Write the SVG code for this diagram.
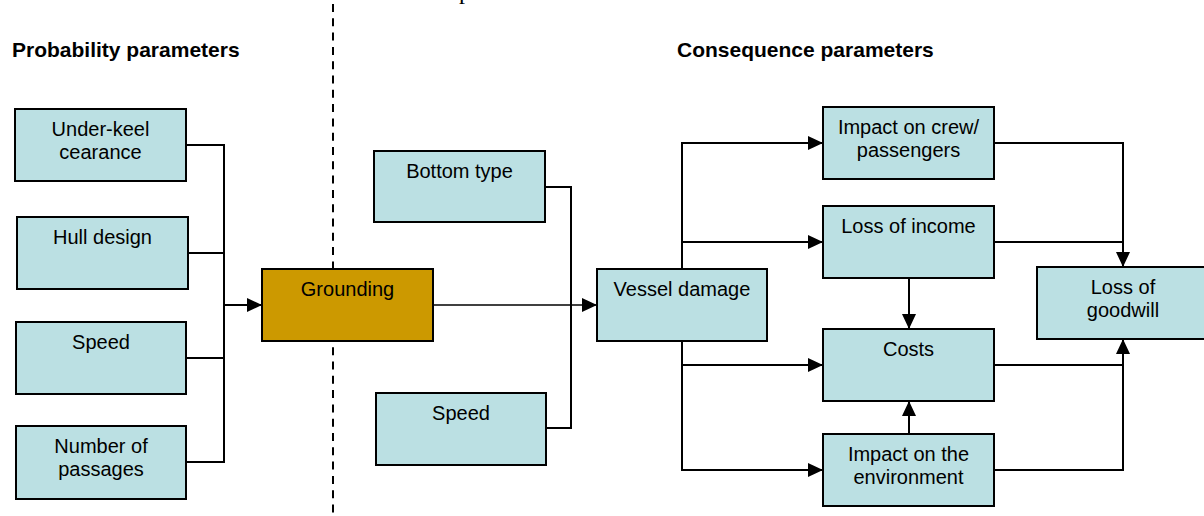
<svg xmlns="http://www.w3.org/2000/svg" width="1204" height="516" viewBox="0 0 1204 516">
<style>
.box{fill:#BBE0E3;stroke:#000;stroke-width:2}
.gr{fill:#CC9900;stroke:#000;stroke-width:2}
.t{font-family:"Liberation Sans",Arial,sans-serif;font-size:20px;fill:#000;text-anchor:middle}
.h{font-family:"Liberation Sans",Arial,sans-serif;font-size:21px;font-weight:bold;fill:#000}
.c{fill:none;stroke:#000;stroke-width:2}
.ca{fill:none;stroke:#000;stroke-width:2;marker-end:url(#ah)}
</style>
<defs>
<marker id="ah" markerWidth="15" markerHeight="14" refX="15" refY="7" orient="auto" markerUnits="userSpaceOnUse">
<path d="M0,0 L15,7 L0,14 z" fill="#000"/>
</marker>
</defs>
<rect width="1204" height="516" fill="#fff"/>
<text x="459" y="-1" font-family="Liberation Serif" font-size="24">p</text>
<line x1="333" y1="4" x2="333" y2="516" stroke="#000" stroke-width="2" stroke-dasharray="8,6.3"/>
<text class="h" x="12" y="57">Probability parameters</text>
<text class="h" x="677" y="57">Consequence parameters</text>
<g id="connectors">
<polyline class="c" points="186,145 224,145 224,462 186,462"/>
<polyline class="c" points="188,253 224,253"/>
<polyline class="c" points="186,358 224,358"/>
<polyline class="ca" points="224,305 262,305"/>
<polyline class="ca" points="433,305 597,305" style="stroke-width:1.5"/>
<polyline class="c" points="545,187 571,187 571,428 546,428"/>
<polyline class="ca" points="682,269 682,143 823,143"/>
<polyline class="ca" points="682,242 823,242"/>
<polyline class="ca" points="682,341 682,470 823,470"/>
<polyline class="ca" points="682,365 823,365"/>
<polyline class="ca" points="994,143 1123,143 1123,267"/>
<polyline class="c" points="994,242 1123,242"/>
<polyline class="c" points="994,365 1123,365"/>
<polyline class="ca" points="994,470 1123,470 1123,339"/>
<polyline class="ca" points="909,278 909,329"/>
<polyline class="ca" points="909,434 909,401"/>
</g>
<g id="underkeel"><rect class="box" x="15" y="109" width="171" height="72"/><text class="t" x="100.5" y="136">Under-keel</text><text class="t" x="100.5" y="159">cearance</text></g>
<g id="hull"><rect class="box" x="17" y="217" width="171" height="72"/><text class="t" x="102.5" y="244">Hull design</text></g>
<g id="speed1"><rect class="box" x="16" y="322" width="170" height="72"/><text class="t" x="101" y="349">Speed</text></g>
<g id="passages"><rect class="box" x="16" y="426" width="170" height="73"/><text class="t" x="101" y="453">Number of</text><text class="t" x="101" y="476">passages</text></g>
<g id="grounding"><rect class="gr" x="262" y="269" width="171" height="72"/><text class="t" x="347.5" y="296">Grounding</text></g>
<g id="bottom"><rect class="box" x="374" y="151" width="171" height="71"/><text class="t" x="459.5" y="178">Bottom type</text></g>
<g id="speed2"><rect class="box" x="376" y="393" width="170" height="72"/><text class="t" x="461" y="420">Speed</text></g>
<g id="vessel"><rect class="box" x="597" y="269" width="170" height="72"/><text class="t" x="682" y="296">Vessel damage</text></g>
<g id="crew"><rect class="box" x="823" y="107" width="171" height="72"/><text class="t" x="908.5" y="134">Impact on crew/</text><text class="t" x="908.5" y="157">passengers</text></g>
<g id="income"><rect class="box" x="823" y="206" width="171" height="72"/><text class="t" x="908.5" y="233">Loss of income</text></g>
<g id="costs"><rect class="box" x="823" y="329" width="171" height="72"/><text class="t" x="908.5" y="356">Costs</text></g>
<g id="environment"><rect class="box" x="823" y="434" width="171" height="72"/><text class="t" x="908.5" y="461">Impact on the</text><text class="t" x="908.5" y="484">environment</text></g>
<g id="goodwill"><rect class="box" x="1037" y="267" width="172" height="72"/><text class="t" x="1123" y="294">Loss of</text><text class="t" x="1123" y="317">goodwill</text></g>
</svg>
